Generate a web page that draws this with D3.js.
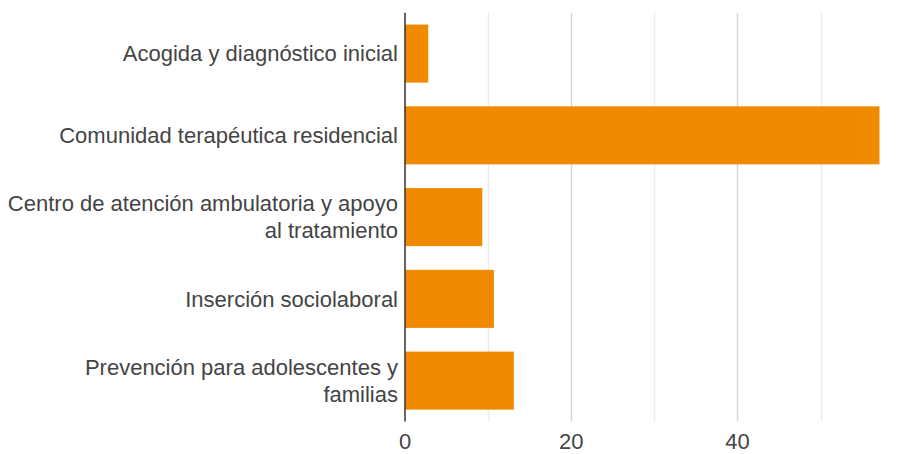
<!DOCTYPE html>
<html>
<head>
<meta charset="utf-8">
<script src="https://cdn.jsdelivr.net/npm/d3@7"></script>
<style>
  html, body { margin: 0; padding: 0; background: #fff; }
  svg { display: block; }
</style>
</head>
<body>
<svg id="chart" width="899" height="454"></svg>
<script>
const categories = [
  "Acogida y diagnóstico inicial",
  "Comunidad terapéutica residencial",
  "Centro de atención ambulatoria y apoyo al tratamiento",
  "Inserción sociolaboral",
  "Prevención para adolescentes y familias"
];
const labelLines = [
  ["Acogida y diagnóstico inicial"],
  ["Comunidad terapéutica residencial"],
  ["Centro de atención ambulatoria y apoyo", "al tratamiento"],
  ["Inserción sociolaboral"],
  ["Prevención para adolescentes y", "familias"]
];
const values = [2.8, 57.1, 9.3, 10.7, 13.1];
const gridValues = [10, 20, 30, 40, 50];
const tickLabels = [0, 20, 40];

const svg = d3.select("#chart");
const font = "'Liberation Sans', Arial, sans-serif";
const fontSize = 22;

const x = d3.scaleLinear().domain([0, 60]).range([405, 405 + 8.31 * 60]);
const y = d3.scaleBand().domain(categories).range([12.7, 421.5])
  .paddingInner(0.29).paddingOuter(0.145);

// gridlines
svg.append("g").selectAll("line").data(gridValues).join("line")
  .attr("x1", d => Math.round(x(d)) + 0.5).attr("x2", d => Math.round(x(d)) + 0.5)
  .attr("y1", 12.7).attr("y2", 421.5)
  .attr("stroke", d => d % 20 === 0 ? "#d6d6d6" : "#ececec")
  .attr("stroke-width", 1.5);

// bars
svg.append("g").selectAll("rect").data(values).join("rect")
  .attr("x", x(0))
  .attr("y", (d, i) => y(categories[i]))
  .attr("width", d => x(d) - x(0))
  .attr("height", y.bandwidth())
  .attr("fill", "#f08a00");

// zero axis line
svg.append("line")
  .attr("x1", x(0)).attr("x2", x(0))
  .attr("y1", 12.7).attr("y2", 421.5)
  .attr("stroke", "#333").attr("stroke-width", 1.5);

// category labels
const lh = 27;
const lg = svg.append("g");
categories.forEach((c, i) => {
  const lines = labelLines[i];
  const cy = y(c) + y.bandwidth() / 2;
  const t = lg.append("text")
    .attr("text-anchor", "end")
    .attr("font-family", font)
    .attr("font-size", fontSize)
    .attr("fill", "#444");
  lines.forEach((ln, j) => {
    const off = (j - (lines.length - 1) / 2) * lh;
    t.append("tspan").attr("x", 398).attr("y", cy + off).attr("dy", "0.35em").text(ln);
  });
});

// x tick labels
svg.append("g").selectAll("text").data(tickLabels).join("text")
  .attr("x", d => x(d)).attr("y", 449)
  .attr("text-anchor", "middle")
  .attr("font-family", font)
  .attr("font-size", fontSize)
  .attr("fill", "#444")
  .text(d => d);
</script>
</body>
</html>
